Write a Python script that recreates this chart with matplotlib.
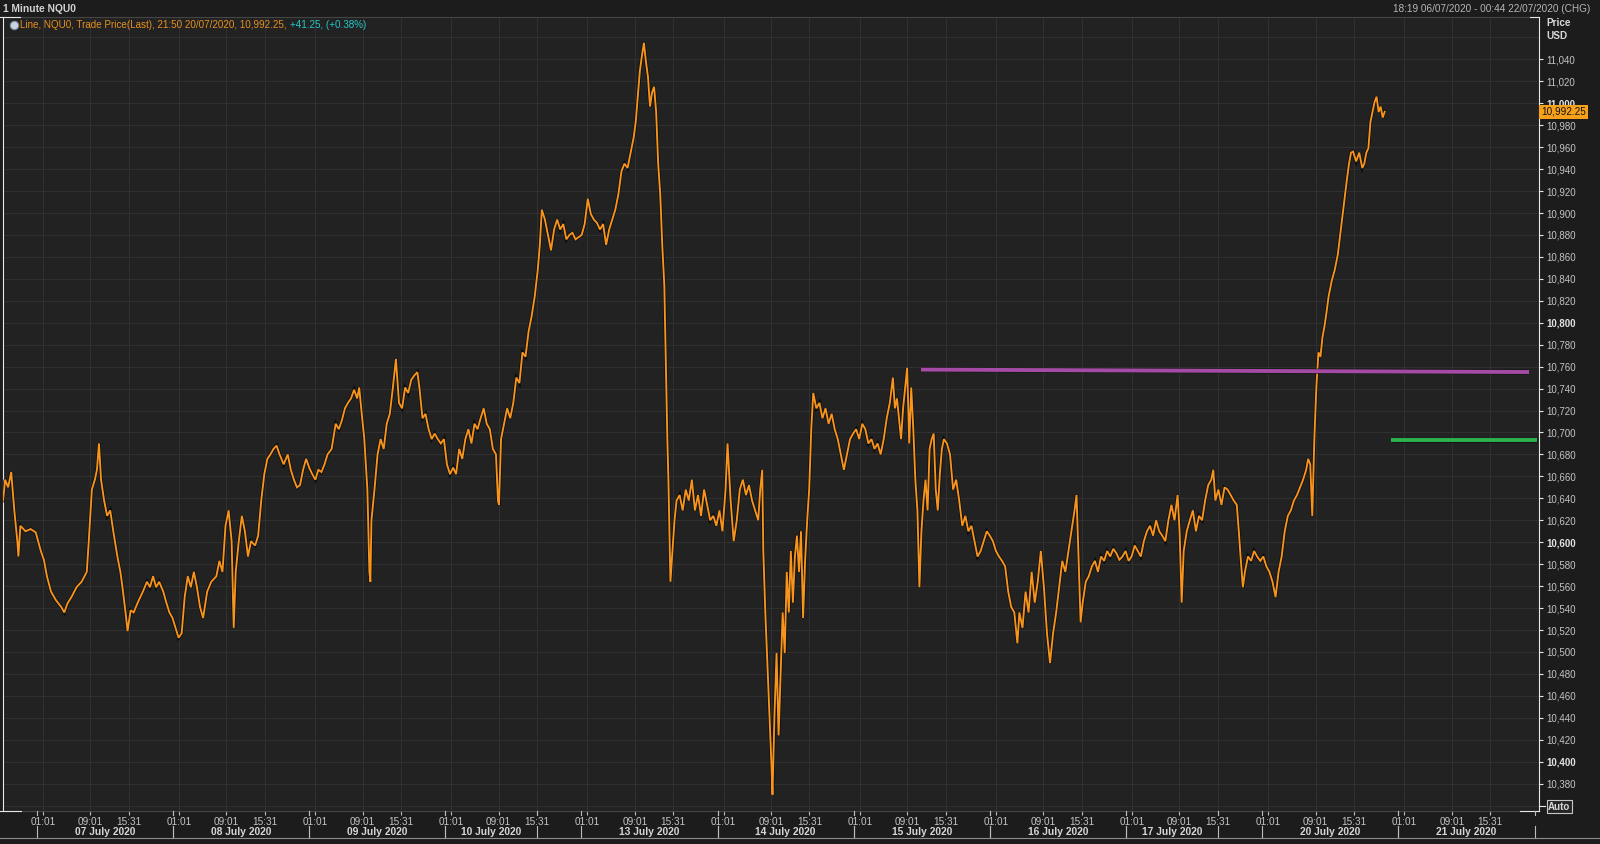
import matplotlib.pyplot as plt
import matplotlib.patheffects as pe
from matplotlib.lines import Line2D
from matplotlib.transforms import blended_transform_factory

plt.rcParams['font.family'] = ['Liberation Sans', 'DejaVu Sans']

# NQU0 1 minute.
# hours = trading hours since 07/07/2020 00:00 (daily 22:00-23:00 break and weekend squeezed out)
hours = [
    -5.70, -5.35, -4.84, -4.32, -3.80, -3.29, -3.11, -2.77, -1.91, -1.05, -0.18,
    0.68, 1.20, 1.71, 2.40, 3.26, 4.13, 4.64, 5.16, 5.85, 6.71, 7.57, 8.44, 8.78, 9.30, 9.81,
    10.16, 10.50, 10.85, 11.37, 11.88, 12.40, 12.92, 13.61, 14.12, 14.47, 14.99, 15.33, 15.85,
    16.36, 17.05, 17.92, 18.61, 19.12, 19.64, 20.16, 20.67, 21.36, 21.88, 22.40, 22.92,
    23.43, 23.95, 24.47, 24.98, 25.50, 26.02, 26.53, 27.05, 27.57, 28.09, 28.78, 29.47,
    30.33, 30.84, 31.36, 31.88, 32.40, 32.91, 33.26, 33.60, 34.12, 34.64, 35.15, 35.67,
    36.19, 36.88, 37.39, 37.91, 38.43, 38.95, 39.46, 39.98, 40.50, 41.01, 41.70, 42.39,
    42.91, 43.43, 43.94, 44.46, 44.98,
    45.50, 46.01, 46.53, 47.05, 47.56, 48.08, 48.60, 49.11, 49.80, 50.49, 51.01, 51.53,
    52.05, 52.56, 53.08, 53.60, 54.11, 54.46, 54.80, 55.32, 55.84, 56.18, 56.35, 56.53,
    57.04, 57.56, 58.08, 58.60, 59.11, 59.63, 60.15, 60.66, 61.18, 61.70, 62.22, 62.73,
    63.25, 63.77, 64.28, 64.63, 65.15, 65.66, 66.18, 66.70, 67.21, 67.73, 68.25, 68.77,
    69.28, 69.80, 70.32, 70.83, 71.35, 71.87, 72.39, 72.90, 73.42, 73.94, 74.45, 74.97,
    75.49, 76.00, 76.52, 77.04, 77.56, 77.90, 78.07, 78.42, 78.93, 79.45, 79.97, 80.49,
    81.00, 81.52, 82.04, 82.55, 83.07, 83.59, 84.11, 84.62, 84.97, 85.31, 85.83, 86.35,
    86.86, 87.38, 87.90, 88.42, 88.93, 89.45, 89.97, 90.48, 91.00, 91.52,
    92.04, 92.55, 93.07, 93.59, 94.10, 94.62, 95.14, 95.66, 96.17, 96.69, 97.21, 97.72,
    98.24, 98.76, 99.27, 99.79, 100.31, 100.83, 101.17, 101.52, 101.86, 102.21, 102.55,
    102.89, 103.24, 103.58, 103.93, 104.27, 104.62, 104.96, 105.31, 105.65, 106.00, 106.17,
    106.34, 106.51, 106.69, 106.86, 107.03, 107.38, 107.72, 108.07, 108.58, 109.10, 109.62,
    110.13, 110.65, 111.17, 111.69, 112.20, 112.72, 113.24, 113.75, 114.27,
    114.79, 115.31, 115.82, 116.34, 116.68, 117.20, 117.72, 118.24, 118.75, 119.27, 119.79,
    120.30, 120.82, 121.34, 121.86, 122.20, 122.54, 122.72, 123.06, 123.41, 123.75, 124.10,
    124.27, 124.61, 124.96, 125.30, 125.65, 125.99, 126.34, 126.68, 127.03, 127.37, 127.72,
    128.06, 128.40, 128.75, 129.09, 129.44, 129.78, 130.13, 130.47, 130.82, 131.16, 131.68,
    132.20, 132.71, 133.23, 133.75, 134.27, 134.78, 135.30, 135.82, 136.33, 136.85,
    137.37, 137.89, 138.40, 138.92, 139.44, 139.95, 140.47, 140.99, 141.51, 142.02, 142.54,
    143.06, 143.57, 144.09, 144.61, 144.95, 145.30, 145.64, 145.99, 146.33, 146.68, 147.02,
    147.37, 147.71, 148.06, 148.40, 148.75, 149.09, 149.43, 149.78, 150.12, 150.47, 150.81,
    151.16, 151.50, 151.85, 152.19, 152.54, 152.88, 153.23, 153.74, 154.26, 154.78, 155.30,
    155.81, 156.33, 156.85, 157.36, 157.88, 158.40, 158.91, 159.43,
    159.95, 160.47, 160.98, 161.50, 162.02, 162.53, 163.05, 163.57, 164.09, 164.60, 165.12,
    165.64, 165.98, 166.50, 167.02, 167.53, 168.05, 168.57, 169.08, 169.60, 170.12, 170.64,
    171.15, 171.67, 172.19, 172.70, 173.22, 173.74, 174.26, 174.77, 175.29, 175.63, 175.98,
    176.32, 176.67, 177.19, 177.70, 178.22, 178.74, 179.25, 179.77, 180.29, 180.81, 181.32,
    181.84,
    182.36, 182.87, 183.39, 183.91, 184.43, 184.94, 185.46, 185.98, 186.49, 187.01, 187.53,
    188.05, 188.56, 189.08, 189.60, 190.11, 190.63, 191.15, 191.66, 192.18, 192.70, 193.04,
    193.39, 193.73, 194.25, 194.77, 195.28, 195.80, 196.32, 196.84, 197.35, 197.87, 198.39,
    198.73, 199.08, 199.59, 200.11, 200.63, 201.15, 201.66, 202.18, 202.70, 203.04, 203.39,
    203.73, 204.08, 204.59, 205.11, 205.63, 206.14, 206.66,
    207.18, 207.70, 208.21, 208.73, 209.25, 209.76, 210.28, 210.80, 211.32, 211.83, 212.35,
    212.87, 213.38, 213.90, 214.42, 214.76, 215.11, 215.45, 215.80, 216.14, 216.49, 216.83,
    217.18, 217.52, 217.87, 218.21, 218.73, 219.24, 219.76, 220.28, 220.80, 221.31, 221.66,
    222.00, 222.35, 222.86, 223.38, 223.90, 224.24, 224.59, 224.93, 225.28, 225.62, 225.97,
    226.31, 226.66, 227.00, 227.35, 227.69,
]
price = [
    10638, 10657, 10650, 10664, 10629, 10601, 10587, 10615, 10610, 10612, 10609,
    10592, 10584, 10569, 10555, 10547, 10541, 10536, 10544, 10550, 10559, 10564, 10573, 10601, 10648, 10657,
    10666, 10690, 10657, 10638, 10624, 10629, 10610, 10587, 10573, 10559, 10536, 10519, 10538,
    10536, 10545, 10555, 10564, 10559, 10569, 10559, 10564, 10555, 10545, 10536, 10531,
    10522, 10513, 10517, 10550, 10569, 10559, 10573, 10559, 10541, 10531, 10555, 10564,
    10569, 10583, 10573, 10615, 10629, 10601, 10522, 10573, 10601, 10624, 10610, 10587,
    10601, 10597, 10606, 10638, 10662, 10676, 10680, 10685, 10688, 10680, 10671, 10680,
    10666, 10657, 10650, 10652, 10666,
    10676, 10668, 10662, 10657, 10666, 10664, 10671, 10680, 10685, 10708, 10703, 10711,
    10722, 10727, 10731, 10739, 10731, 10741, 10722, 10694, 10648, 10573, 10564, 10620,
    10648, 10680, 10694, 10685, 10708, 10717, 10741, 10767, 10727, 10722, 10741, 10736,
    10748, 10752, 10755, 10741, 10713, 10717, 10703, 10694, 10699, 10694, 10690, 10694,
    10671, 10662, 10668, 10662, 10685, 10676, 10694, 10703, 10690, 10708, 10703, 10713,
    10722, 10708, 10703, 10685, 10680, 10638, 10634, 10694, 10708, 10722, 10713, 10727,
    10750, 10745, 10773, 10769, 10792, 10806, 10824, 10848, 10871, 10903, 10894, 10880,
    10866, 10885, 10894, 10885, 10890, 10876, 10880, 10882, 10876, 10878,
    10880, 10890, 10913, 10899, 10894, 10891, 10885, 10890, 10871, 10885, 10894, 10903,
    10917, 10938, 10945, 10941, 10955, 10969, 10983, 11006, 11029, 11043, 11055,
    11038, 11024, 10997, 11010, 11015, 10992, 10945, 10917, 10871, 10834, 10787,
    10741, 10694, 10657, 10610, 10564, 10592, 10620, 10638, 10643, 10629, 10648,
    10638, 10657, 10629, 10643, 10624, 10648, 10634, 10620, 10624,
    10615, 10629, 10610, 10648, 10690, 10638, 10601, 10620, 10648, 10657, 10643,
    10652, 10638, 10629, 10620, 10648, 10666, 10592, 10536, 10490, 10443, 10397,
    10370, 10443, 10499, 10424, 10480, 10536, 10499, 10573, 10536, 10592, 10545,
    10587, 10606, 10573, 10610, 10531, 10583, 10620, 10648, 10703, 10736, 10722,
    10727, 10713, 10722, 10708, 10717, 10703, 10694, 10680, 10666, 10680,
    10694, 10699, 10703, 10694, 10708, 10703, 10690, 10694, 10685, 10690, 10680,
    10694, 10713, 10727, 10750, 10722, 10731, 10713, 10694, 10722, 10741, 10759,
    10690, 10741, 10703, 10657, 10629, 10559, 10610, 10638, 10657, 10629, 10685,
    10694, 10699, 10648, 10629, 10662, 10685, 10694, 10690, 10680, 10648, 10657,
    10638, 10615, 10624, 10610, 10615, 10601, 10587, 10592,
    10601, 10610, 10606, 10601, 10592, 10587, 10583, 10578, 10555, 10541, 10536,
    10508, 10536, 10522, 10555, 10536, 10573, 10545, 10564, 10592, 10559, 10517,
    10490, 10517, 10536, 10559, 10583, 10573, 10592, 10610, 10629, 10643, 10583,
    10527, 10545, 10564, 10569, 10578, 10583, 10573, 10587, 10583, 10592, 10587,
    10594,
    10590, 10584, 10587, 10592, 10583, 10587, 10597, 10592, 10587, 10601, 10610,
    10615, 10606, 10620, 10610, 10606, 10601, 10620, 10634, 10620, 10643, 10610,
    10545, 10592, 10610, 10620, 10629, 10610, 10624, 10620, 10638, 10652, 10657,
    10666, 10638, 10648, 10634, 10650, 10648, 10643, 10638, 10634, 10610, 10583,
    10559, 10573, 10587, 10583, 10592, 10587, 10583,
    10587, 10578, 10573, 10564, 10550, 10573, 10587, 10610, 10624, 10629, 10638,
    10643, 10650, 10657, 10666, 10676, 10671, 10624, 10694, 10741, 10773, 10769,
    10787, 10797, 10810, 10824, 10838, 10848, 10862, 10885, 10908, 10931, 10945,
    10955, 10956, 10947, 10955, 10941, 10945, 10955, 10959, 10983, 10992, 11001,
    11006, 10992, 10997, 10987, 10992.25,
]

days = ['07 July 2020', '08 July 2020', '09 July 2020', '10 July 2020', '13 July 2020',
        '14 July 2020', '15 July 2020', '16 July 2020', '17 July 2020', '20 July 2020',
        '21 July 2020']
day_hours = 23.0
tick_names = ['01:01', '09:01', '15:31']
tick_hours = [1.02, 9.02, 15.52]
friday_end = {'10 July 2020': 15.52, '17 July 2020': 15.52}

# drawn studies (hours, price)
trend_hours = [149.36, 252.07]
trend_price = [10757.3, 10755.1]
level_hours = [228.75, 253.36]
level_price = [10693.1, 10693.1]

last_price = 10992.25
x_range = (-5.76, 253.75)
y_range = (10355.1, 11078.6)

BG = '#1c1c1c'
PLOT_BG = '#222222'
GRID = '#303030'
TXT = '#c4c4c4'
W, H = 1600, 844


def fx(x):
    return x / W


def fy(y):
    return 1 - y / H


fig = plt.figure(figsize=(16, 8.44), dpi=100, facecolor=BG)
ax = fig.add_axes([fx(2.7), fy(811), fx(1539) - fx(2.7), fy(17) - fy(811)], facecolor=PLOT_BG)

# grid
for v in range(10360, 11061, 20):
    ax.axhline(v, color=GRID, lw=0.8, zorder=0)
xt, xl = [], []
for i, d in enumerate(days):
    for t, n in zip(tick_hours, tick_names):
        xt.append(i * day_hours + t)
        xl.append(n)
for t in xt:
    ax.axvline(t, color=GRID, lw=0.8, zorder=0)

ax.plot(hours, price, color='#f7941d', lw=1.35, zorder=3, solid_joinstyle='miter',
        path_effects=[pe.Stroke(linewidth=2.4, foreground='#0c0c0c'), pe.Normal()])
ax.plot(trend_hours, trend_price, color='#a54aa5', lw=2.8, zorder=4, solid_capstyle='butt',
        path_effects=[pe.Stroke(linewidth=3.6, foreground='#151515'), pe.Normal()])
ax.plot(level_hours, level_price, color='#2db34a', lw=2.8, zorder=4, solid_capstyle='butt',
        path_effects=[pe.Stroke(linewidth=3.6, foreground='#151515'), pe.Normal()])

# price axis on the right
yt = list(range(10380, 11041, 20))
ax.yaxis.tick_right()
ax.set_yticks(yt)
ax.set_yticklabels([f'{v:,}' for v in yt])
ax.tick_params(axis='y', colors='#e6e6e6', labelcolor=TXT, labelsize=7, length=3, width=0.8, pad=2.5)
for v, lab in zip(yt, ax.get_yticklabels()):
    if v % 200 == 0:
        lab.set_fontweight('bold')
        lab.set_color('#e2e2e2')

ax.set_xticks(xt)
ax.set_xticklabels(xl)
ax.tick_params(axis='x', colors='#bdbdbd', labelcolor=TXT, labelsize=7.2, length=3, width=0.8, pad=1.2)

for s in ['top', 'bottom']:
    ax.spines[s].set_color('#454545')
    ax.spines[s].set_linewidth(0.8)
for s in ['left', 'right']:
    ax.spines[s].set_color('#e8e8e8')
    ax.spines[s].set_linewidth(0.8)

ax.set_xlim(*x_range)
ax.set_ylim(*y_range)

# white corner marks of the frame
for xs, ys in [((0, 20), (17, 17)), ((0, 21), (811, 811)), ((1530, 1539), (17, 17)), ((1520, 1539), (811, 811)),
               ((1539, 1545), (806, 806))]:
    fig.add_artist(Line2D([fx(xs[0]), fx(xs[1])], [fy(ys[0]), fy(ys[1])], color='#e8e8e8', lw=0.8))

# date row
trans = blended_transform_factory(ax.transData, fig.transFigure)
for i, d in enumerate(days):
    start = i * day_hours
    end = start + friday_end.get(d, day_hours)
    fig.text(0, fy(832), d, transform=trans, ha='center', va='center', fontsize=7.4,
             fontweight='bold', color='#d6d6d6').set_x((start + end) / 2)
    for x in (start, end):
        fig.add_artist(Line2D([x, x], [fy(826), fy(838)], transform=trans, color='#bdbdbd', lw=0.8))
        fig.add_artist(Line2D([x, x], [fy(811), fy(815)], transform=trans, color='#bdbdbd', lw=0.8))
fig.add_artist(Line2D([0, 1], [fy(838), fy(838)], color='#8c8c8c', lw=0.8))

# header
fig.text(fx(3), fy(8.5), '1 Minute NQU0', fontsize=7.4, fontweight='bold', color='#d2d2d2', va='center')
fig.text(fx(1590), fy(9), '18:19 06/07/2020 - 00:44 22/07/2020 (CHG)', fontsize=7.2, color='#b6b6b6',
         ha='right', va='center')

# legend: orange part, then the change in cyan right after it
fig.add_artist(Line2D([fx(14)], [fy(24.5)], marker='o', ms=6, mfc='#c9d3de', mec='#7d8a99', mew=0.8))
leg = fig.text(fx(19.5), fy(25), 'Line, NQU0, Trade Price(Last), 21:50 20/07/2020, 10,992.25,',
               fontsize=7.1, color='#e8901e', va='center')
fig.canvas.draw()
x_end = leg.get_window_extent().x1
fig.text((x_end + 4) / W, fy(25), '+41.25, (+0.38%)', fontsize=7.1, color='#22c7c7', va='center')

# axis titles
fig.text(fx(1546), fy(23), 'Price', fontsize=7.2, fontweight='bold', color='#d8d8d8', va='center')
fig.text(fx(1546), fy(36), 'USD', fontsize=7.2, fontweight='bold', color='#d8d8d8', va='center')

# last price flag
ax.text(1.0015, last_price, f'{last_price:,.2f}', transform=blended_transform_factory(ax.transAxes, ax.transData),
        ha='left', va='center', fontsize=7.2, color='#111111', zorder=10, clip_on=False,
        bbox=dict(boxstyle='square,pad=0.2', fc='#f7a11a', ec='none'))

fig.text(fx(1548), fy(806.5), 'Auto', fontsize=7, fontweight='bold', color='#d8d8d8', va='center',
         bbox=dict(boxstyle='square,pad=0.15', fc='#262626', ec='#c8c8c8', lw=0.8))

fig.savefig('out.png', dpi=100, facecolor=BG)
